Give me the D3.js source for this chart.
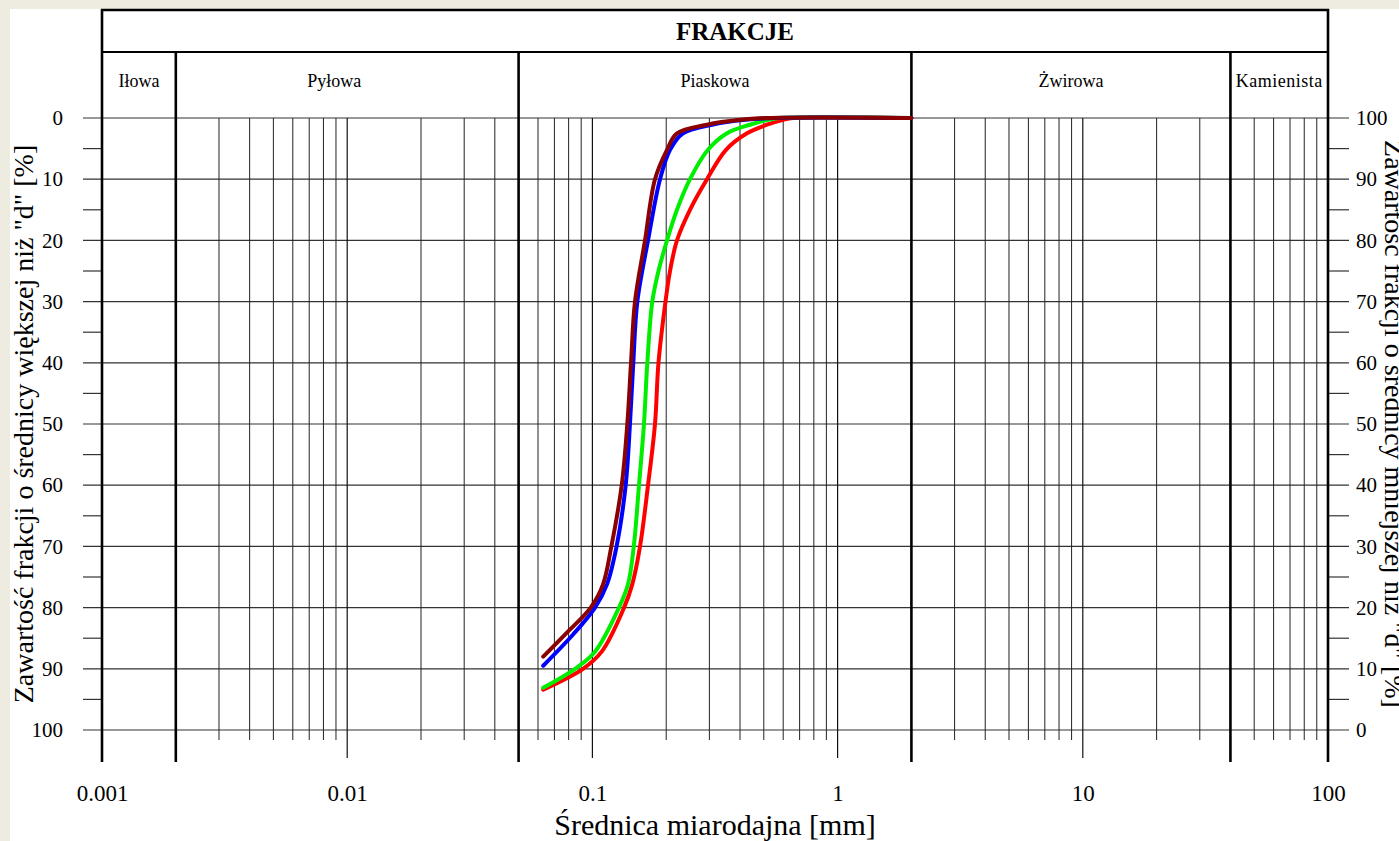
<!DOCTYPE html>
<html>
<head>
<meta charset="utf-8">
<script src="https://cdn.jsdelivr.net/npm/d3@7"></script>
<style>
    body { margin: 0; background: #eeebe0; }
    svg { display: block; }
    text { font-family: "Liberation Serif", "Times New Roman", serif; fill: #000; }
</style>
</head>
<body>
<svg id="chart" width="1399" height="841"></svg>
<script>
// fraction boundaries [mm] and names
var fractionBounds = [0.001, 0.002, 0.05, 2, 40, 100];
var fractionNames = ["Iłowa", "Pyłowa", "Piaskowa", "Żwirowa", "Kamienista"];
var xTicks = [0.001, 0.01, 0.1, 1, 10, 100];
var yTicks = [0, 10, 20, 30, 40, 50, 60, 70, 80, 90, 100];
var yMinorTicks = [5, 15, 25, 35, 45, 55, 65, 75, 85, 95];

// sieve curves: diameter [mm] and % finer than d (right axis)
var brownD = [0.063, 0.0773, 0.0984, 0.1105, 0.1195, 0.1317, 0.1388, 0.1437, 0.1492, 0.1639, 0.180, 0.2015, 0.2213, 0.2933, 0.40, 0.515, 2];
var brownP = [12.0, 15.6, 20, 23.8, 30, 40, 50, 60, 70, 80, 90, 94.8, 97.5, 98.9, 99.7, 100, 100];
var blueD = [0.063, 0.0834, 0.1025, 0.1147, 0.1255, 0.1367, 0.1423, 0.1468, 0.1525, 0.1686, 0.1887, 0.2073, 0.2342, 0.3075, 0.419, 0.555, 2];
var blueP = [10.5, 15.6, 20, 23.8, 30, 40, 50, 60, 70, 80, 90, 94.8, 97.5, 98.9, 99.7, 100, 100];
var greenD = [0.063, 0.0849, 0.1025, 0.1284, 0.1397, 0.1475, 0.1549, 0.1623, 0.1675, 0.1755, 0.1860, 0.2015, 0.2213, 0.25, 0.2961, 0.3539, 0.4392, 0.52, 0.5823, 2];
var greenP = [6.9, 10, 12.8, 20, 23.8, 30, 40, 50, 60, 70, 75, 80, 85, 90, 94.8, 97.5, 98.9, 99.7, 100, 100];
var redD = [0.063, 0.0916, 0.1091, 0.1346, 0.1454, 0.1564, 0.1686, 0.1800, 0.1860, 0.1987, 0.2073, 0.2213, 0.2500, 0.2933, 0.3507, 0.4271, 0.5153, 0.60, 0.6578, 2];
var redP = [6.6, 10, 12.8, 20, 23.8, 30, 40, 50, 60, 70, 75, 80, 85, 90, 94.8, 97.5, 98.9, 99.7, 100, 100];

var series = [
    {color: "#ff0000", d: redD, p: redP},
    {color: "#00ee00", d: greenD, p: greenP},
    {color: "#0000ff", d: blueD, p: blueP},
    {color: "#8b0000", d: brownD, p: brownP}
];

var svg = d3.select("#chart");

var plotLeft = 102, plotRight = 1328, plotTop = 118, plotBottom = 730;
var x = d3.scaleLog().domain([0.001, 100]).range([plotLeft, plotRight]);
var yL = d3.scaleLinear().domain([0, 100]).range([plotTop, plotBottom]);   // % coarser
var yR = d3.scaleLinear().domain([0, 100]).range([plotBottom, plotTop]);   // % finer

// white sheet
svg.append("rect").attr("x", 10).attr("y", 9).attr("width", 1400).attr("height", 840).attr("fill", "#fff");

// minor vertical lines (2..9 per decade), skip fraction bounds
var minor = [];
[0.001, 0.01, 0.1, 1, 10].forEach(function(dec) {
    for (var k = 2; k <= 9; k++) {
        var v = +(k * dec).toPrecision(3);
        if (fractionBounds.indexOf(v) < 0) minor.push(v);
    }
});
var decades = [0.01, 0.1, 1, 10];

var grid = svg.append("g");

// horizontal grid
grid.selectAll("line.h").data(yTicks).enter().append("line")
    .attr("x1", 83).attr("x2", 1349)
    .attr("y1", function(d) { return yL(d); }).attr("y2", function(d) { return yL(d); })
    .attr("stroke", "#333").attr("stroke-width", 1.2);

// minor y ticks on both sides
grid.selectAll("line.ml").data(yMinorTicks).enter().append("line")
    .attr("x1", 83).attr("x2", plotLeft)
    .attr("y1", function(d) { return yL(d); }).attr("y2", function(d) { return yL(d); })
    .attr("stroke", "#333").attr("stroke-width", 1.2);
grid.selectAll("line.mr").data(yMinorTicks).enter().append("line")
    .attr("x1", plotRight).attr("x2", 1349)
    .attr("y1", function(d) { return yL(d); }).attr("y2", function(d) { return yL(d); })
    .attr("stroke", "#333").attr("stroke-width", 1.2);

grid.selectAll("line.v").data(minor).enter().append("line")
    .attr("x1", function(d) { return x(d); }).attr("x2", function(d) { return x(d); })
    .attr("y1", plotTop).attr("y2", 740)
    .attr("stroke", "#222").attr("stroke-width", 1);

grid.selectAll("line.dec").data(decades).enter().append("line")
    .attr("x1", function(d) { return x(d); }).attr("x2", function(d) { return x(d); })
    .attr("y1", plotTop).attr("y2", 758)
    .attr("stroke", "#111").attr("stroke-width", 1.2);

// fraction boundaries (thick)
grid.selectAll("line.b").data(fractionBounds).enter().append("line")
    .attr("x1", function(d) { return x(d); }).attr("x2", function(d) { return x(d); })
    .attr("y1", function(d, i) { return (i === 0 || i === fractionBounds.length - 1) ? 9 : 52; })
    .attr("y2", 762)
    .attr("stroke", "#000").attr("stroke-width", 2.6);

// header rows
grid.append("line").attr("x1", plotLeft - 1).attr("x2", plotRight + 1).attr("y1", 10).attr("y2", 10)
    .attr("stroke", "#000").attr("stroke-width", 2.4);
grid.append("line").attr("x1", plotLeft).attr("x2", plotRight).attr("y1", 52).attr("y2", 52)
    .attr("stroke", "#000").attr("stroke-width", 2);

svg.append("text").attr("x", 735).attr("y", 40).attr("text-anchor", "middle")
    .attr("font-size", 25).attr("font-weight", "bold").text("FRAKCJE");

// Pyłowa sits a bit left of its cell centre in the original
var labelShift = {"Pyłowa": -13};
svg.selectAll("text.frac").data(fractionNames).enter().append("text")
    .attr("x", function(d, i) {
        return (x(fractionBounds[i]) + x(fractionBounds[i + 1])) / 2 + (labelShift[d] || 0);
    })
    .attr("y", 87).attr("text-anchor", "middle").attr("font-size", 18)
    .attr("letter-spacing", function(d) { return d === "Kamienista" ? 0.5 : 0; })
    .text(function(d) { return d; });

// curves
var line = d3.line()
    .x(function(d) { return x(d[0]); })
    .y(function(d) { return yR(d[1]); })
    .curve(d3.curveCatmullRom.alpha(0.5));

svg.append("g").selectAll("path").data(series).enter().append("path")
    .attr("d", function(s) { return line(d3.zip(s.d, s.p)); })
    .attr("fill", "none")
    .attr("stroke", function(s) { return s.color; })
    .attr("stroke-width", 4)
    .attr("stroke-linecap", "round")
    .attr("stroke-linejoin", "round");

// axes
function styleAxis(g, size) {
    g.select(".domain").remove();
    g.selectAll(".tick line").remove();
    g.selectAll("text").attr("font-family", "Liberation Serif, Times New Roman, serif")
        .attr("font-size", size).attr("fill", "#000");
}

svg.append("g").attr("transform", "translate(" + plotLeft + ",0)")
    .call(d3.axisLeft(yL).tickValues(yTicks).tickSize(19).tickPadding(20))
    .call(styleAxis, 21);

svg.append("g").attr("transform", "translate(" + plotRight + ",0)")
    .call(d3.axisRight(yR).tickValues(yTicks).tickSize(21).tickPadding(7))
    .call(styleAxis, 21);

svg.append("g").attr("transform", "translate(0,761)")
    .call(d3.axisBottom(x).tickValues(xTicks).tickSize(0).tickPadding(24).tickFormat(d3.format("~g")))
    .call(styleAxis, 23);

// axis titles
svg.append("text").attr("x", 715).attr("y", 835).attr("text-anchor", "middle")
    .attr("font-size", 30).text("Średnica miarodajna [mm]");

svg.append("text").attr("transform", "translate(33,424) rotate(-90)")
    .attr("text-anchor", "middle").attr("font-size", 28)
    .text("Zawartość frakcji o średnicy większej niż \"d\" [%]");

svg.append("text").attr("transform", "translate(1385,424) rotate(90)")
    .attr("text-anchor", "middle").attr("font-size", 28)
    .text("Zawartość frakcji o średnicy mniejszej niż \"d\" [%]");
</script>
</body>
</html>
